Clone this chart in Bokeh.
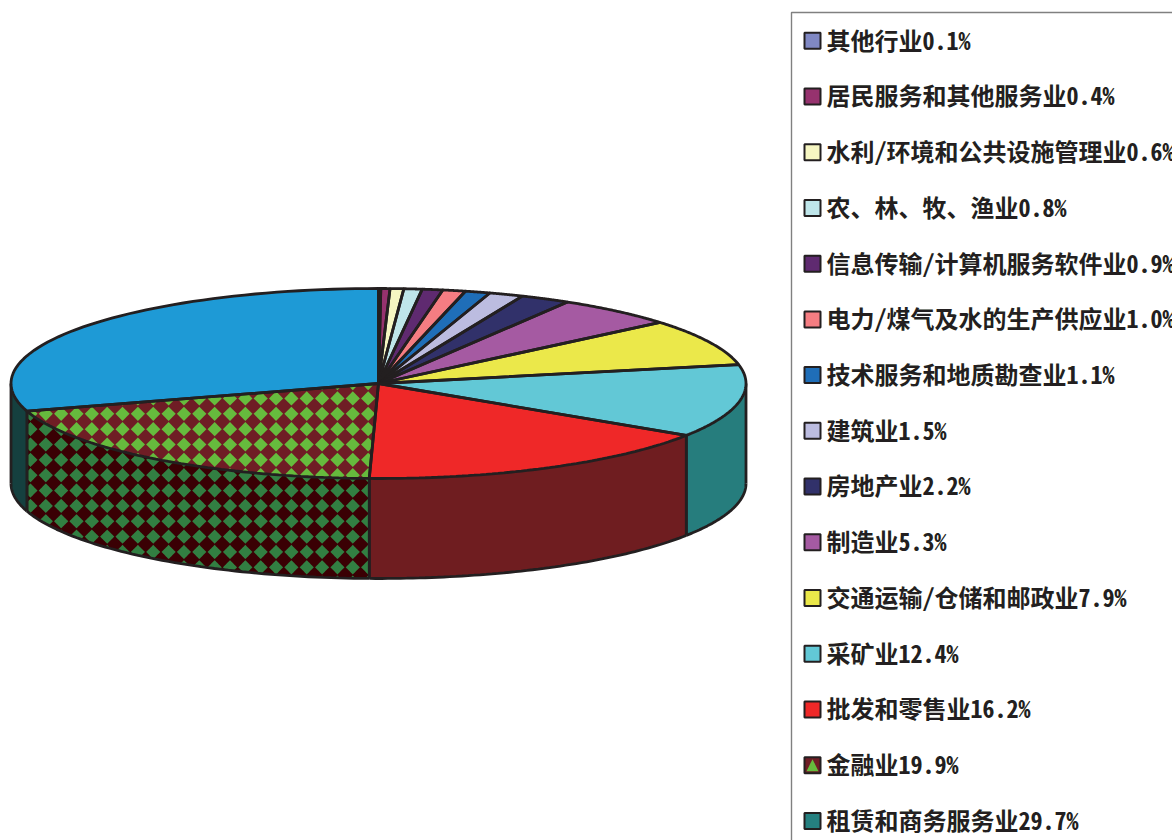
import math
from bokeh.plotting import figure
from bokeh.models import Range1d
from bokeh.core.properties import value
from bokeh.embed import file_html
from bokeh.resources import INLINE

names = ["其他行业", "居民服务和其他服务业", "水利/环境和公共设施管理业", "农、林、牧、渔业",
         "信息传输/计算机服务软件业", "电力/煤气及水的生产供应业", "技术服务和地质勘查业", "建筑业",
         "房地产业", "制造业", "交通运输/仓储和邮政业", "采矿业", "批发和零售业", "金融业", "租赁和商务服务业"]
shares = [0.1, 0.4, 0.6, 0.8, 0.9, 1.0, 1.1, 1.5, 2.2, 5.3, 7.9, 12.4, 16.2, 19.9, 29.7]
top_colors = ["#8088c4", "#96326e", "#f6f6c2", "#bfe6ea", "#5f2a70", "#f57d82", "#1f6eb8", "#bcbce0",
              "#31316a", "#a55aa2", "#ebe84a", "#62c8d6", "#ef2828", "#6f1d25", "#1e9ad6"]
legend_colors = top_colors[:-1] + ["#258080"]
side_colors = {11: "#267d7d", 12: "#6f1d20", 13: "#3a0004", 14: "#15403f"}
hatch_top = "#66bb3d"
hatch_side = "#327f42"
INK = "#231f20"

CX, CY, RX, RY, DEPTH = 378.0, 383.0, 367.5, 95.0, 100.0
PITCH, HALF = 15.35, 7.1
GX, GY = 229.5, 413.3
EDGE = 2.8


def pt(a, dy=0.0):
    return CX + RX * math.sin(a), CY - RY * math.cos(a) + dy


def arc(a0, a1, dy=0.0, n=60):
    return [pt(a0 + (a1 - a0) * i / n, dy) for i in range(n + 1)]


def clip_convex(poly, clip):
    out = poly
    for i in range(len(clip)):
        ax, ay = clip[i]
        bx, by = clip[(i + 1) % len(clip)]
        side = lambda p: (bx - ax) * (p[1] - ay) - (by - ay) * (p[0] - ax)
        inp, out = out, []
        for j in range(len(inp)):
            c, d = inp[j], inp[(j + 1) % len(inp)]
            sc, sd = side(c), side(d)
            if sc >= 0:
                out.append(c)
            if (sc >= 0) != (sd >= 0):
                t = sc / (sc - sd)
                out.append((c[0] + t * (d[0] - c[0]), c[1] + t * (d[1] - c[1])))
        if not out:
            return []
    return out


def lattice(x0, x1, y0, y1):
    cells = []
    r0 = math.floor((y0 - GY) / PITCH) - 1
    r1 = math.ceil((y1 - GY) / PITCH) + 1
    c0 = math.floor((x0 - GX) / PITCH) - 1
    c1 = math.ceil((x1 - GX) / PITCH) + 1
    for r in range(r0, r1 + 1):
        for c in range(c0, c1 + 1):
            xc, yc = GX + c * PITCH, GY + r * PITCH
            cells.append([(xc, yc - HALF), (xc + HALF, yc), (xc, yc + HALF), (xc - HALF, yc)])
    return cells


p = figure(width=1172, height=840, output_backend="svg", toolbar_location=None,
           x_range=Range1d(0, 1172), y_range=Range1d(840, 0),
           min_border=0, outline_line_color=None, background_fill_color="white")
p.axis.visible = False
p.grid.visible = False

edges = [0.0]
for s in shares:
    edges.append(edges[-1] + s)
total = edges[-1]
angles = [e / total * 2 * math.pi for e in edges]

# side wall
LEFT, RIGHT = 1.5 * math.pi, 0.5 * math.pi
for i, col in side_colors.items():
    a0 = max(angles[i], RIGHT)
    a1 = min(angles[i + 1], LEFT)
    upper = arc(a0, a1)
    lower = arc(a1, a0, DEPTH)
    wall = upper + lower
    p.patch([q[0] for q in wall], [q[1] for q in wall], fill_color=col, line_color=None)
    if i == 13:
        xs, ys = [], []
        xa, xb = upper[-1][0], upper[0][0]
        def bounds(x):
            u = max(-1.0, min(1.0, (x - CX) / RX))
            yy = RY * math.sqrt(1 - u * u)
            return CY + yy, CY + yy + DEPTH
        for cell in lattice(xa, xb, CY, CY + RY + DEPTH):
            dense = []
            for k in range(4):
                c, d = cell[k], cell[(k + 1) % 4]
                for t in range(8):
                    dense.append((c[0] + (d[0] - c[0]) * t / 8, c[1] + (d[1] - c[1]) * t / 8))
            cl = []
            for x, y in dense:
                x = max(xa, min(xb, x))
                t, b = bounds(x)
                cl.append((x, max(t, min(b, y))))
            if max(q[1] for q in cl) - min(q[1] for q in cl) > 0.3 and max(q[0] for q in cl) - min(q[0] for q in cl) > 0.3:
                xs.append([q[0] for q in cl])
                ys.append([q[1] for q in cl])
        p.patches(xs, ys, fill_color=hatch_side, line_color=None)
    xs = [[q[0] for q in lower], [upper[0][0], lower[-1][0]], [upper[-1][0], lower[0][0]]]
    ys = [[q[1] for q in lower], [upper[0][1], lower[-1][1]], [upper[-1][1], lower[0][1]]]
    p.multi_line(xs, ys, line_color=INK, line_width=EDGE)

# top face
for i, col in enumerate(top_colors):
    rim = arc(angles[i], angles[i + 1])
    sector = [(CX, CY)] + rim
    p.patch([q[0] for q in sector], [q[1] for q in sector], fill_color=col, line_color=None)
    if i == 13:
        xs, ys = [], []
        for cell in lattice(min(q[0] for q in sector), max(q[0] for q in sector), CY, CY + RY):
            cl = clip_convex(cell, sector)
            if len(cl) >= 3:
                xs.append([q[0] for q in cl])
                ys.append([q[1] for q in cl])
        p.patches(xs, ys, fill_color=hatch_top, line_color=None)
for i in range(len(top_colors)):
    rim = arc(angles[i], angles[i + 1])
    sector = [(CX, CY)] + rim + [(CX, CY)]
    p.line([q[0] for q in sector], [q[1] for q in sector], line_color=INK, line_width=EDGE)

# legend
LX, LY, STEP = 804.0, 40.3, 55.72
p.multi_line([[1400, 791, 791]], [[12, 12, 900]], line_color="#808080", line_width=1.4)
for i, col in enumerate(legend_colors):
    y = LY + i * STEP
    p.quad(left=LX, right=LX + 16, top=y - 8, bottom=y + 8, fill_color=col, line_color=INK, line_width=2)
    if i == 13:
        t = [(LX + 8, y - 6), (LX + 14, y + 6), (LX + 2, y + 6)]
        p.patch([q[0] for q in t], [q[1] for q in t], fill_color=hatch_top, line_color=None)
labels = [f"{n}{s}%" for n, s in zip(names, shares)]
p.text(x=[826.0] * len(labels), y=[LY - 1.6 + i * STEP for i in range(len(labels))], text=labels,
       text_font=value("Noto Sans Mono CJK SC, Noto Sans CJK SC"), text_font_size="24px", text_font_style="bold",
       text_color=INK, text_baseline="middle", text_align="left")

open("out.html", "w").write(file_html(p, INLINE))
